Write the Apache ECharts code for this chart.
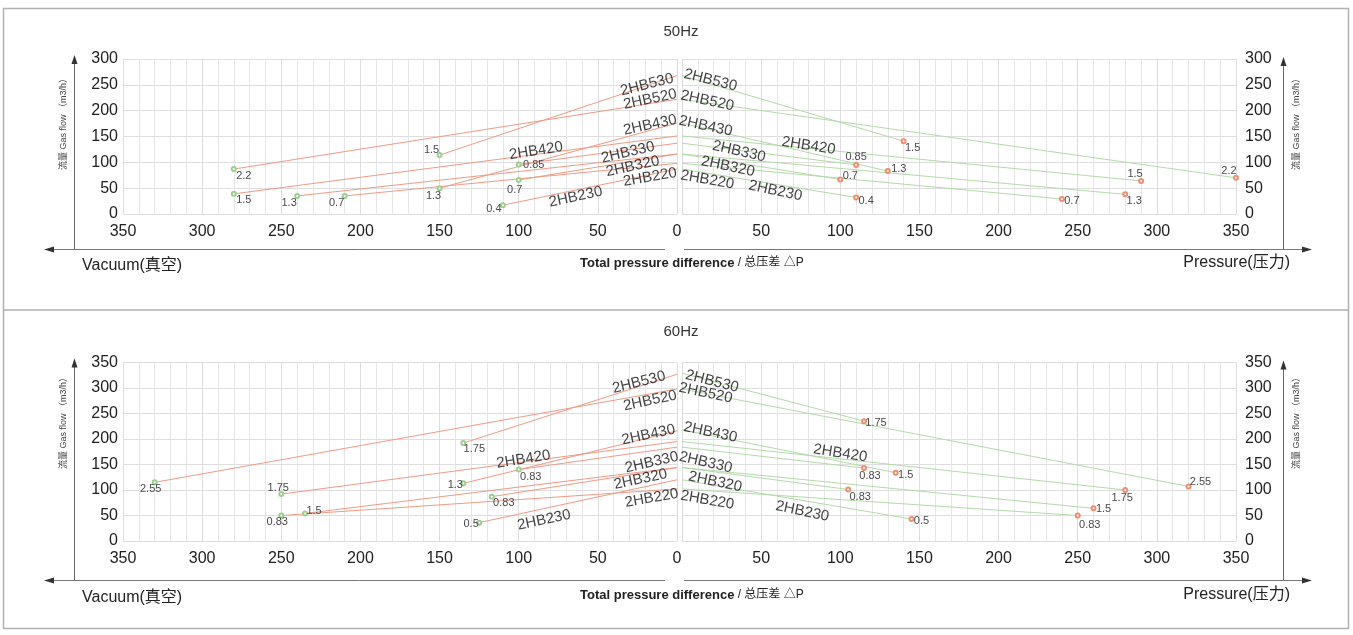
<!DOCTYPE html>
<html><head><meta charset="utf-8">
<script src="https://cdn.jsdelivr.net/npm/echarts@6/dist/echarts.min.js"></script>
<style>html,body{margin:0;padding:0;background:#fff}#c{width:1353px;height:635px}</style>
</head><body><div id="c"></div>
<script>
// ---------- DATA ----------
const xTickInterval = 50;
const lineModels = ['2HB530','2HB520','2HB430','2HB420','2HB330','2HB320b','2HB320','2HB220','2HB230'];
const labelModels = ['2HB530','2HB520','2HB430','2HB420','2HB330','2HB320','2HB220','2HB230'];

// 50Hz, vacuum side: flow at 0, end pressure difference, end flow, motor power
const vac50Flow0   = [268,222,176,151,137,116,116,98,87];
const vac50EndP    = [150,280,150,280,100,100,240,210,110];
const vac50EndFlow = [114,87,50,39,96,66,35,35,17];
const vac50Power   = ['1.5','2.2','1.3','1.5','0.85','0.7','1.3','0.7','0.4'];

// 50Hz, pressure side
const pre50Flow0   = [268,222,176,151,137,116,116,98,87];
const pre50EndP    = [140,350,130,290,110,100,280,240,110];
const pre50EndFlow = [141,70,83,64,95,67,38,29,32];
const pre50Power   = ['1.5','2.2','1.3','1.5','0.85','0.7','1.3','0.7','0.4'];

// 60Hz, vacuum side
const vac60Flow0   = [327,298,216,195,184,144,144,102,120];
const vac60EndP    = [135,330,135,250,100,117,235,250,125];
const vac60EndFlow = [192,115,113,92,140,87,54,50,36];
const vac60Power   = ['1.75','2.55','1.3','1.75','0.83','0.83','1.5','0.83','0.5'];

// 60Hz, pressure side
const pre60Flow0   = [329,298,218,195,184,144,144,102,120];
const pre60EndP    = [115,320,135,280,115,105,260,250,145];
const pre60EndFlow = [235,107,134,100,143,101,64,50,43];
const pre60Power   = ['1.75','2.55','1.5','1.75','0.83','0.83','1.5','0.83','0.5'];

// model-name label anchors (data coordinates)
const vac50LabelX = [19,17,17,89,31,28,17,64];
const vac50LabelY = [250,222,172,122,119,92,71,33];
const pre50LabelX = [18,16,15,80,36,29,16,59];
const pre50LabelY = [259,219,170,132,121,92,66,45];
const vac60LabelX = [24,17,18,97,16,23,16,84];
const vac60LabelY = [311,275,208,160,154,121,84,41];
const pre60LabelX = [19,15,18,100,15,21,16,76];
const pre60LabelY = [313,290,213,172,154,116,80,58];

// ---------- STYLE ----------
const FONT = '"Liberation Sans", Arial, "Noto Sans CJK SC", sans-serif';
const vac50Off = [[-8,-5],[10,7],[-6,8],[10,6],[15,1],[-4,10],[-8,7],[-8,7],[-9,4]];
const pre50Off = [[9,7],[-7,-7],[11,-2],[-6,-7],[0,-8],[10,-3],[9,7],[10,2],[10,4]];
const vac60Off = [[11,6],[-4,7],[-8,2],[-3,-6],[12,7],[12,6],[9,-2],[-4,6],[-8,1]];
const pre60Off = [[12,2],[12,-4],[10,2],[-3,8],[6,8],[12,7],[10,1],[12,9],[10,2]];
const vacRot = [14,12,12,9,13,12,10,12];
const preRot = [-14,-12,-12,-9,-13,-12,-10,-12];

const RED = '#f29a84', GREEN = '#b2dba8', DOT_G = '#9ccf90', DOT_R = '#ee8e72';

const grids = [
  {left:123, top:59, width:554, height:155},
  {left:682, top:59, width:554, height:155},
  {left:123, top:362.5, width:554, height:178.5},
  {left:682, top:362.5, width:554, height:178.5}
];

function xAx(gi, inverse, hideZero){
  return {type:'value', gridIndex:gi, min:0, max:350, interval:xTickInterval, inverse:inverse,
    axisLine:{show:false}, axisTick:{show:false},
    axisLabel:{fontSize:16, color:'#222', margin:10, fontFamily:FONT,
      formatter: v => (hideZero && v===0) ? '' : String(v)},
    splitLine:{show:true, lineStyle:{color:'#dedede', width:1}},
    minorTick:{show:false, splitNumber:5},
    minorSplitLine:{show:true, lineStyle:{color:'#e6e6e6', width:1}}};
}
function yAx(gi, pos, max){
  return {type:'value', gridIndex:gi, min:0, max:max, interval:50, position:pos,
    axisLine:{show:false}, axisTick:{show:false},
    axisLabel:{fontSize:16, color:'#222', margin: pos==='left'?5:9, fontFamily:FONT},
    splitLine:{show:true, lineStyle:{color:'#dedede', width:1}}};
}

function panel(gi, flow0, endP, endFlow, power, lineColor, dotColor, offs, lx, ly, rot){
  const s = [];
  flow0.forEach((f,i)=>{
    s.push({type:'line', name:lineModels[i], xAxisIndex:gi, yAxisIndex:gi, silent:true, animation:false,
      showAllSymbol:true, z:3,
      lineStyle:{color:lineColor, width:1},
      itemStyle:{color:dotColor, borderColor:dotColor, borderWidth:1},
      data:[
        {value:[0,f], symbol:'none'},
        {value:[endP[i], endFlow[i]], symbol:'emptyCircle', symbolSize:4,
          label:{show:true, formatter:power[i], position:'inside', offset:offs[i],
            fontSize:11, color:'#4a4a4a', fontFamily:FONT}}
      ]});
  });
  labelModels.forEach((n,i)=>{
    s.push({type:'scatter', xAxisIndex:gi, yAxisIndex:gi, silent:true, animation:false, z:4,
      symbolSize:1, itemStyle:{color:'rgba(0,0,0,0)'},
      data:[{value:[lx[i], ly[i]], name:n}],
      label:{show:true, formatter:'{b}', position:'inside', rotate:rot[i],
        fontSize:15, color:'#111', fontFamily:FONT}});
  });
  return s;
}

function txt(x, y, text, o){
  return {type:'text', x:x, y:y, z:10, silent:true, rotation:(o&&o.rot)||0,
    style:Object.assign({text:text, fill:'#222', font:'15px '+FONT, align:'left', verticalAlign:'middle'}, (o&&o.style)||{})};
}
function ln(x1,y1,x2,y2,c,w){
  return {type:'line', silent:true, z:5, shape:{x1:x1,y1:y1,x2:x2,y2:y2}, style:{stroke:c||'#666', lineWidth:w||1}};
}
function tri(pts){
  return {type:'polygon', silent:true, z:6, shape:{points:pts}, style:{fill:'#333'}};
}

const graphics = [
  {type:'rect', silent:true, z:1, shape:{x:3.5,y:8.5,width:1345,height:620}, style:{fill:'none', stroke:'#b0b0b0', lineWidth:1.5}},
  ln(3.5,310,1348.5,310,'#b0b0b0',1.5)
];
function frame(yTop, yAxisBot, yArrow, titleY, textY){
  graphics.push(txt(681, titleY, yTop===59?'50Hz':'60Hz', {style:{align:'center', font:'15px '+FONT, fill:'#333'}}));
  graphics.push(ln(74.5, yArrow, 74.5, yTop+1, '#666'));
  graphics.push(tri([[74.5, yTop-4],[71.5, yTop+5],[77.5, yTop+5]]));
  graphics.push(ln(1283.5, yArrow, 1283.5, yTop+3, '#666'));
  graphics.push(tri([[1283.5, yTop-2],[1280.5, yTop+7],[1286.5, yTop+7]]));
  graphics.push(ln(665, yArrow+0.5, 52, yArrow+0.5, '#777'));
  graphics.push(tri([[44, yArrow+0.5],[54, yArrow-2.5],[54, yArrow+3.5]]));
  graphics.push(ln(684, yArrow+0.5, 1304, yArrow+0.5, '#777'));
  graphics.push(tri([[1312, yArrow+0.5],[1302, yArrow-2.5],[1302, yArrow+3.5]]));
  const nm = '流量 Gas flow （m3/h）';
  graphics.push(txt(64, yAxisBot, nm, {rot:Math.PI/2, style:{align:'center', font:'9px '+FONT, fill:'#444'}}));
  graphics.push(txt(1297, yAxisBot, nm, {rot:Math.PI/2, style:{align:'center', font:'9px '+FONT, fill:'#444'}}));
  graphics.push(txt(82, textY+3, 'Vacuum(真空)', {style:{font:'16px '+FONT, fill:'#222'}}));
  graphics.push(txt(1290, textY, 'Pressure(压力)', {style:{align:'right', font:'16px '+FONT, fill:'#222'}}));
  graphics.push(txt(580, textY, '{b|Total pressure difference} / 总压差 △P',
    {style:{font:'12px '+FONT, fill:'#222', rich:{b:{fontWeight:'bold', fontSize:13, fontFamily:FONT, fill:'#222'}}}}));
}
frame(59, 122, 249, 32, 263);
frame(362.5, 421, 580, 332, 595);

const option = {
  backgroundColor:'#fff',
  animation:false,
  grid: grids,
  xAxis: [xAx(0,true,false), xAx(1,false,true), xAx(2,true,false), xAx(3,false,true)],
  yAxis: [
    yAx(0,'left',300), yAx(1,'right',300),
    yAx(2,'left',350), yAx(3,'right',350)
  ],
  series: [].concat(
    panel(0, vac50Flow0, vac50EndP, vac50EndFlow, vac50Power, RED, DOT_G, vac50Off, vac50LabelX, vac50LabelY, vacRot),
    panel(1, pre50Flow0, pre50EndP, pre50EndFlow, pre50Power, GREEN, DOT_R, pre50Off, pre50LabelX, pre50LabelY, preRot),
    panel(2, vac60Flow0, vac60EndP, vac60EndFlow, vac60Power, RED, DOT_G, vac60Off, vac60LabelX, vac60LabelY, vacRot),
    panel(3, pre60Flow0, pre60EndP, pre60EndFlow, pre60Power, GREEN, DOT_R, pre60Off, pre60LabelX, pre60LabelY, preRot)
  ),
  graphic: graphics
};
const chart = echarts.init(document.getElementById('c'), null, {renderer:'canvas'});
chart.setOption(option);
</script></body></html>
